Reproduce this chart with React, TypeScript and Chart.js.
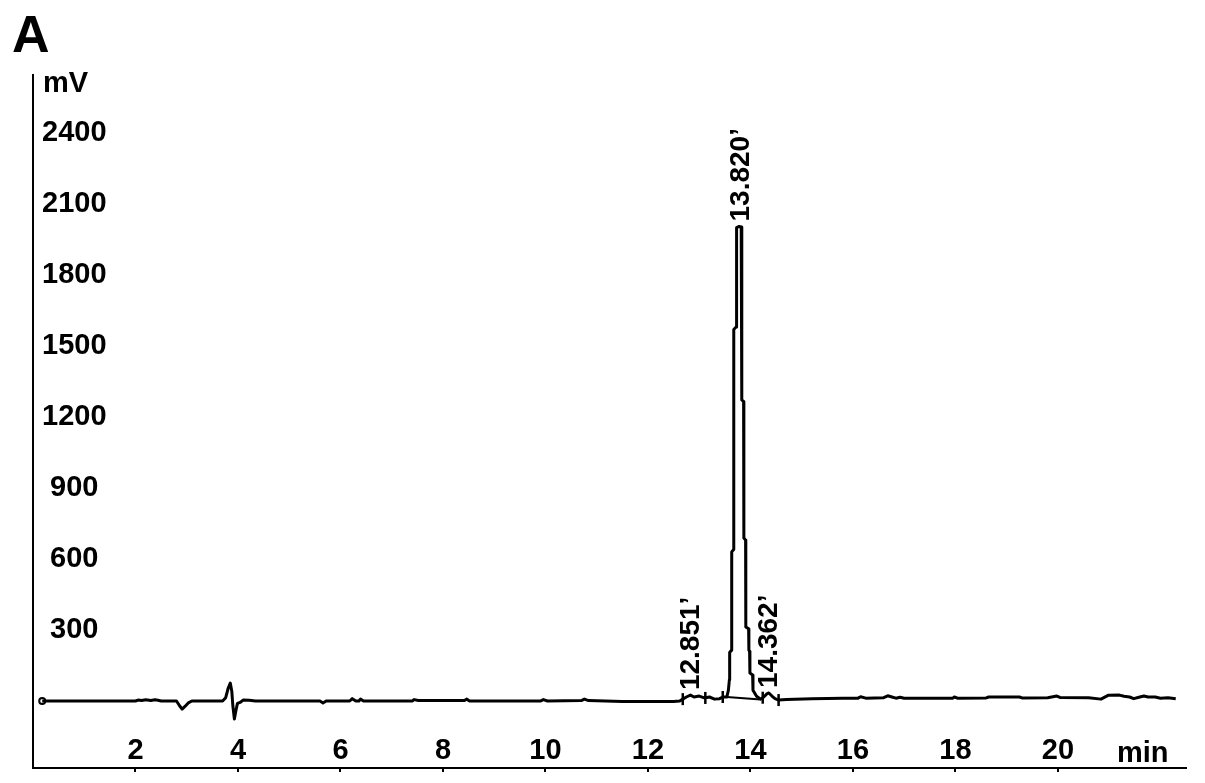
import { useEffect, useRef } from 'react';
import { Chart, registerables } from 'chart.js';

Chart.register(...registerables);

const FONT = '"Liberation Sans", Arial, sans-serif';

// Chromatogram trace: retention time (min) and signal (mV)
const traceTimes = [
  0.18, 2.0, 2.05, 2.12, 2.2, 2.3, 2.38, 2.44, 2.5, 2.8, 2.86, 2.91, 2.97, 3.03, 3.1,
  3.7, 3.76, 3.81, 3.85, 3.88, 3.9, 3.93, 3.96, 3.99, 4.04, 4.1, 4.22, 4.34,
  5.6, 5.66, 5.72, 6.18, 6.23, 6.3, 6.36, 6.39, 6.45, 7.4, 7.44, 7.52, 8.42, 8.46, 8.52,
  9.9, 9.96, 10.04, 10.7, 10.76, 10.84, 11.5, 12.5, 12.62, 12.68, 12.75, 12.83, 12.9,
  13.0, 13.1, 13.2, 13.3, 13.4, 13.46, 13.54, 13.57, 13.59, 13.595, 13.63, 13.635, 13.67,
  13.675, 13.72, 13.73, 13.78, 13.82, 13.828, 13.835, 13.867, 13.872, 13.906, 13.91,
  13.965, 13.97, 13.984, 13.99, 14.043, 14.05, 14.12, 14.2, 14.26, 14.32, 14.36, 14.42,
  14.48, 14.55, 14.7, 15.2, 15.8, 16.1, 16.15, 16.25, 16.6, 16.68, 16.76, 16.84, 16.92,
  17.0, 17.95, 17.98, 18.04, 18.6, 18.65, 19.25, 19.3, 19.8, 19.98, 20.04, 20.6, 20.84,
  20.98, 21.2, 21.29, 21.4, 21.48, 21.58, 21.68, 21.76, 21.9, 22.0, 22.15, 22.3,
];
const traceValues = [
  0, 0, 4, 2, 5, 2, 5, 3, 0, 0, -20, -34, -22, -8, 0,
  0, 14, 55, 76, 40, -20, -76, -40, -10, -6, 4, 3, 0,
  0, -8, 0, 0, 10, 0, 0, 8, 0, 0, 6, 2, 2, 8, 0,
  0, 6, 0, 2, 8, 2, -2, -2, 0, 8, 17, 25, 17,
  21, 13, 17, 8, 10, 17, 17, 46, 90, 205, 215, 630, 640,
  1570, 1580, 2000, 2005, 2003, 1914, 1272, 1265, 689, 680, 313,
  305, 215, 210, 118, 110, 46, 20, 8, 17, 30, 34, 21,
  10, 4, 6, 10, 12, 12, 18, 12, 14, 22, 17, 12, 16,
  12, 12, 17, 12, 13, 17, 17, 13, 14, 21, 15, 14, 8,
  24, 25, 20, 17, 10, 16, 21, 17, 17, 12, 14, 10,
];

// Integration baseline drawn under the main peak
const baselineTimes = [13.54, 14.2];
const baselineValues = [17, 6];

// Integration marks on the baseline
const markTimes = [12.68, 13.12, 13.46, 14.24, 14.55];
const markValues = [8, 13, 17, 14, 4];

// Injection marker
const startTimes = [0.18];
const startValues = [0];

// Peak annotations
const peakTimes = [12.851, 13.82, 14.362];
const peakLabels = ['12.851’', '13.820’', '14.362’'];

// Axis ticks
const xTicks = [2, 4, 6, 8, 10, 12, 14, 16, 18, 20];
const yTicks = [300, 600, 900, 1200, 1500, 1800, 2100, 2400];

const textPlugin = {
  id: 'chromTexts',
  afterDatasetsDraw(chart: any) {
    const { ctx, scales } = chart;
    const x = scales.x;
    const y = scales.y;
    ctx.save();
    ctx.fillStyle = '#000';
    ctx.textBaseline = 'alphabetic';
    ctx.textAlign = 'left';
    // Panel letter
    ctx.font = `bold 52px ${FONT}`;
    ctx.fillText('A', 12, 52);
    // Axis units
    ctx.font = `bold 29px ${FONT}`;
    ctx.fillText('mV', 43, 92);
    ctx.fillText('min', 1117, 762);
    // Peak labels (rotated)
    peakTimes.forEach((t, i) => {
      let m = -Infinity;
      traceTimes.forEach((tt, j) => {
        if (Math.abs(tt - t) <= 0.06) m = Math.max(m, traceValues[j]);
      });
      const px = x.getPixelForValue(t);
      const py = y.getPixelForValue(m) - 5;
      ctx.save();
      ctx.translate(px, py);
      ctx.rotate(-Math.PI / 2);
      ctx.textAlign = 'left';
      ctx.textBaseline = 'middle';
      ctx.font = `bold 28px ${FONT}`;
      ctx.fillText(peakLabels[i], 0, 0);
      ctx.restore();
    });
    ctx.restore();
  },
};

export default function App() {
  const ref = useRef<HTMLCanvasElement | null>(null);

  useEffect(() => {
    if (!ref.current) return;
    const tickFont = { family: FONT, size: 29, weight: 'bold' as const, lineHeight: 1.15 };
    const chart = new Chart(ref.current, {
      type: 'line',
      data: {
        datasets: [
          {
            label: 'signal',
            data: traceTimes.map((t, i) => ({ x: t, y: traceValues[i] })),
            borderColor: '#000',
            borderWidth: 3,
            borderJoinStyle: 'round',
            pointRadius: 0,
            tension: 0,
            fill: false,
          },
          {
            label: 'baseline',
            data: baselineTimes.map((t, i) => ({ x: t, y: baselineValues[i] })),
            borderColor: '#000',
            borderWidth: 2,
            pointRadius: 0,
            tension: 0,
            fill: false,
          },
          {
            label: 'marks',
            data: markTimes.map((t, i) => ({ x: t, y: markValues[i] })),
            showLine: false,
            pointStyle: 'line',
            rotation: 90,
            pointRadius: 6,
            pointBorderWidth: 2.5,
            pointBorderColor: '#000',
            borderColor: '#000',
          },
          {
            label: 'start',
            data: startTimes.map((t, i) => ({ x: t, y: startValues[i] })),
            showLine: false,
            pointStyle: 'circle',
            pointRadius: 3,
            pointBorderWidth: 2,
            pointBorderColor: '#000',
            pointBackgroundColor: '#fff',
          },
        ],
      },
      options: {
        animation: false,
        responsive: true,
        maintainAspectRatio: false,
        layout: { padding: { left: 33, top: 75, right: 19, bottom: 11 } },
        plugins: {
          legend: { display: false },
          tooltip: { enabled: false },
          title: { display: false },
        },
        scales: {
          x: {
            type: 'linear',
            position: 'bottom',
            min: 0,
            max: 22.5,
            afterBuildTicks: (s: any) => {
              s.ticks = xTicks.map((v) => ({ value: v }));
            },
            afterFit: (s: any) => {
              s.height = 4;
              s.paddingLeft = 0;
              s.paddingRight = 0;
              s.paddingTop = 0;
              s.paddingBottom = 0;
            },
            grid: {
              display: true,
              drawOnChartArea: false,
              drawTicks: true,
              tickLength: 4,
              color: '#000',
              lineWidth: 2,
            },
            border: { display: true, color: '#000', width: 2 },
            ticks: {
              mirror: true,
              padding: 0,
              color: '#000',
              font: tickFont,
              maxRotation: 0,
              autoSkip: false,
              callback: (v: any) => String(v),
            },
          },
          y: {
            type: 'linear',
            min: -283,
            max: 2645,
            afterBuildTicks: (s: any) => {
              s.ticks = yTicks.map((v) => ({ value: v }));
            },
            afterFit: (s: any) => {
              s.width = 0;
              s.paddingLeft = 0;
              s.paddingRight = 0;
              s.paddingTop = 0;
              s.paddingBottom = 0;
            },
            grid: { display: false, drawTicks: false, tickLength: 0 },
            border: { display: true, color: '#000', width: 2 },
            ticks: {
              mirror: true,
              padding: 9,
              color: '#000',
              font: tickFont,
              autoSkip: false,
              callback: (v: any) => (Number(v) < 1000 ? ' ' : '') + String(v),
            },
          },
        },
      },
      plugins: [textPlugin],
    } as any);
    return () => chart.destroy();
  }, []);

  return (
    <div
      style={{
        position: 'fixed',
        left: 0,
        top: 0,
        width: 1205,
        height: 783,
        background: '#fff',
      }}
    >
      <canvas ref={ref} />
    </div>
  );
}
